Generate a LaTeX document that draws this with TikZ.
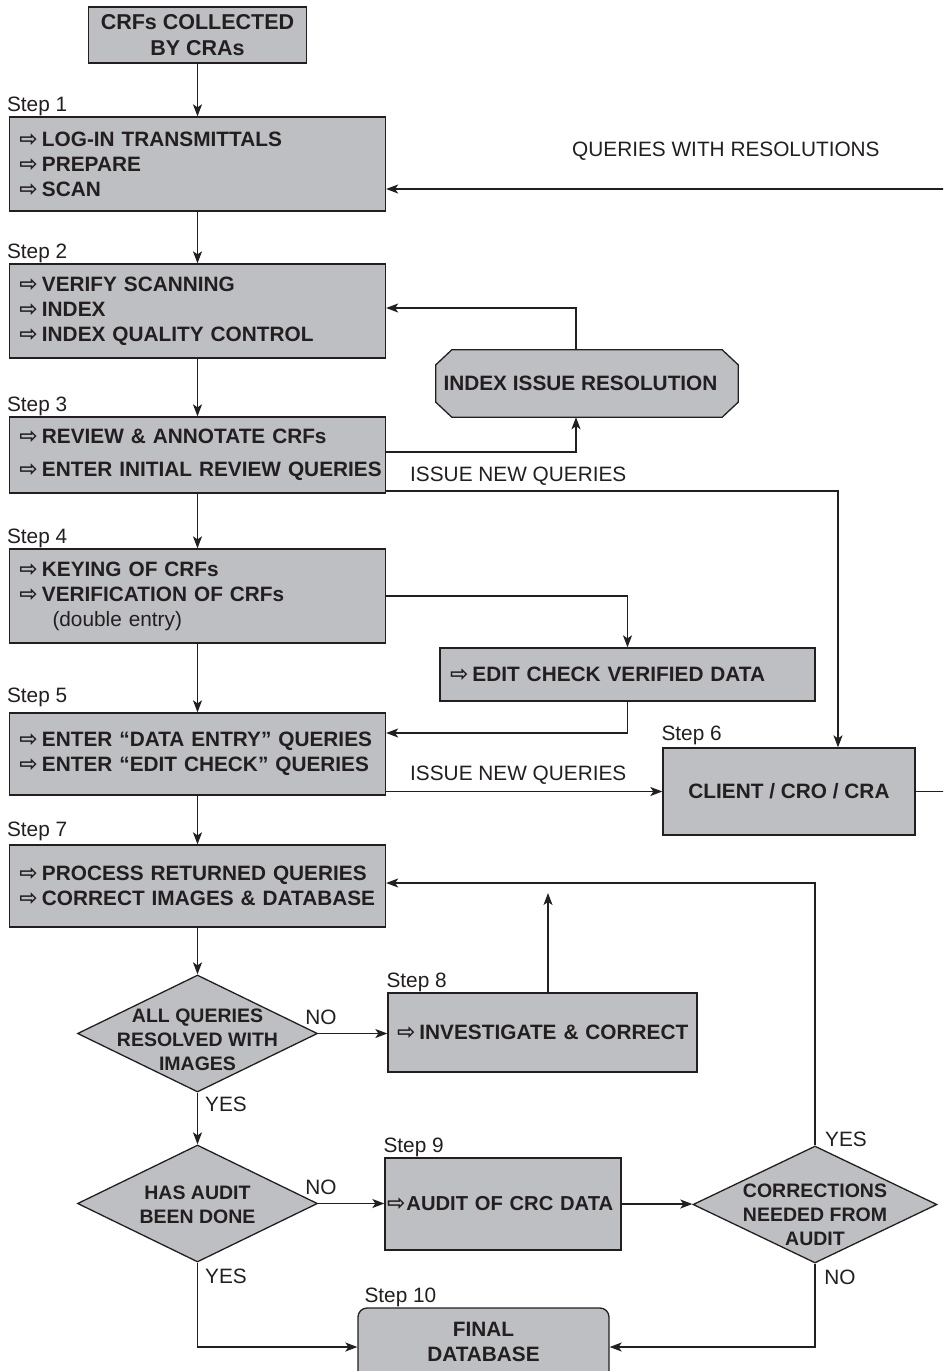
\documentclass[tikz,border=0pt]{standalone}
\usepackage{fontspec}
\setmainfont{Liberation Sans}
\newfontfamily\symfont{DejaVu Sans}
\usetikzlibrary{arrows.meta,shapes.geometric,backgrounds}

\definecolor{boxgray}{RGB}{190,191,194}
\definecolor{ink}{RGB}{35,31,32}

\newcommand\boxfont{\fontsize{20.8}{25}\selectfont\bfseries}
\newcommand\headfont{\fontsize{21.5}{26}\selectfont\bfseries}
\newcommand\diafont{\fontsize{19.5}{24}\selectfont\bfseries}
\newcommand\plainfont{\fontsize{20.8}{25}\selectfont}
\newcommand\stepmark[1][4pt]{{\symfont\fontsize{22}{22}\selectfont\char"21E8}\hspace{#1}}
\newcommand\stepline[1]{\mbox{\stepmark#1}}

\begin{document}
\begin{tikzpicture}[x=1pt,y=-1pt,
  >={Stealth[length=12pt,width=9pt,inset=3pt]},
  conn/.style={draw=ink, line width=1.3pt},
  arr/.style={conn,->},
  box/.style={draw=ink, line width=1.3pt, fill=boxgray},
  stepbox/.style={box, minimum width=376, text width=356, inner xsep=10,
    inner ysep=0, align=left, font=\boxfont, text=ink},
  centerbox/.style={box, align=center, font=\boxfont, text=ink},
  dia/.style={box, diamond, inner sep=0},
  diatext/.style={align=center, font=\diafont, inner sep=0, text=ink},
  plain/.style={font=\plainfont, inner sep=0, text=ink},
  steplbl/.style={plain, anchor=south west, xshift=-2pt},
]
\useasboundingbox (0,0) rectangle (943,1371);
\begin{scope}[on background layer]
  \fill[white] (0,0) rectangle (943,1371);
\end{scope}
\clip (0,0) rectangle (943,1371);

% main column of steps
\node[centerbox, font=\headfont, minimum width=218, minimum height=56] (top) at (197.5,35) {CRFs COLLECTED\\BY CRAs};
\node[stepbox, minimum height=94] (s1) at (197.5,164)
  {\stepline{LOG-IN TRANSMITTALS}\\\stepline{PREPARE}\\\stepline{SCAN}};
\node[stepbox, minimum height=94] (s2) at (197.5,311)
  {\stepline{VERIFY SCANNING}\\\stepline{INDEX}\\\stepline{INDEX QUALITY CONTROL}};
\node[stepbox, minimum height=76] (s3) at (197.5,455)
  {\stepline{REVIEW \& ANNOTATE CRFs}\\[8pt]\stepline{ENTER INITIAL REVIEW QUERIES}};
\node[stepbox, minimum height=94] (s4) at (197.5,596)
  {\stepline{KEYING OF CRFs}\\\stepline{VERIFICATION OF CRFs}\\\mbox{\mdseries\hspace*{33pt}(double entry)}};
\node[stepbox, minimum height=82] (s5) at (197.5,754)
  {\stepline{ENTER “DATA ENTRY” QUERIES}\\\stepline{ENTER “EDIT CHECK” QUERIES}};
\node[stepbox, minimum height=82] (s7) at (197.5,886)
  {\stepline{PROCESS RETURNED QUERIES}\\\stepline{CORRECT IMAGES \& DATABASE}};

% side boxes
\node[font=\boxfont, text=ink, minimum width=302, minimum height=67, inner sep=0] (oct) at (587,383.5)
  {INDEX ISSUE RESOLUTION\hspace*{13pt}};
\begin{scope}[on background layer]
  \draw[box] ([xshift=16pt]oct.north west) -- ([xshift=-16pt]oct.north east)
    -- ([yshift=-15pt]oct.north east) -- ([yshift=15pt]oct.south east)
    -- ([xshift=-16pt]oct.south east) -- ([xshift=16pt]oct.south west)
    -- ([yshift=15pt]oct.south west) -- ([yshift=-15pt]oct.north west) -- cycle;
\end{scope}
\node[stepbox, minimum width=375, text width=355, minimum height=53] (ec) at (627.5,674.5)
  {\stepline{EDIT CHECK VERIFIED DATA}};
\node[centerbox, minimum width=252, minimum height=87] (client) at (789,791.5) {CLIENT / CRO / CRA};
\node[stepbox, minimum width=309, text width=291, inner xsep=9, minimum height=79] (s8) at (542.5,1032.5)
  {\stepline{INVESTIGATE \& CORRECT}};
\node[stepbox, minimum width=236, text width=232, inner xsep=2, minimum height=92,
  font=\fontsize{20.2}{25}\selectfont\bfseries] (s9) at (503,1204)
  {\mbox{\stepmark[1pt]AUDIT OF CRC DATA}};

% decisions
\node[dia, minimum width=240, minimum height=117] (d1) at (197.5,1033.5) {};
\node[diatext] (d1t) at ([yshift=-6.5pt]d1.center) {ALL QUERIES\\RESOLVED WITH\\IMAGES};
\node[dia, minimum width=240, minimum height=117] (d2) at (197.5,1203.5) {};
\node[diatext] (d2t) at ([yshift=-1.5pt]d2.center) {HAS AUDIT\\BEEN DONE};
\node[dia, minimum width=244, minimum height=117] (d3) at (815,1204.5) {};
\node[diatext] (d3t) at ([yshift=-10pt]d3.center) {CORRECTIONS\\NEEDED FROM\\AUDIT};

% final database
\node[box, rounded corners=9pt, minimum width=251, minimum height=78] (fin) at (483.5,1347) {};
\node[diatext, font=\boxfont] (fint) at (483.5,1342) {FINAL\\DATABASE};

% step labels
\node[steplbl] (l1) at (s1.north west) {Step 1};
\node[steplbl] (l2) at (s2.north west) {Step 2};
\node[steplbl] (l3) at (s3.north west) {Step 3};
\node[steplbl] (l4) at (s4.north west) {Step 4};
\node[steplbl, yshift=5pt] (l5) at (s5.north west) {Step 5};
\node[steplbl, yshift=2pt, xshift=1pt] (l6) at (client.north west) {Step 6};
\node[steplbl, yshift=3pt] (l7) at (s7.north west) {Step 7};
\node[steplbl, xshift=1pt] (l8) at (s8.north west) {Step 8};
\node[steplbl, xshift=1pt] (l9) at (s9.north west) {Step 9};
\node[steplbl, xshift=9pt] (l10) at (fin.north west) {Step 10};

% connector labels
\node[plain, anchor=west] (qwr) at (572,151) {QUERIES WITH RESOLUTIONS};
\node[plain, anchor=west] (inq1) at (410,476) {ISSUE NEW QUERIES};
\node[plain, anchor=west] (inq2) at (410,775) {ISSUE NEW QUERIES};
\node[plain] (no1) at (321,1017) {NO};
\node[plain] (yes1) at (226,1104) {YES};
\node[plain] (no2) at (321,1187) {NO};
\node[plain] (yes2) at (226,1276) {YES};
\node[plain] (yes3) at (846,1139) {YES};
\node[plain] (no3) at (840,1277) {NO};

% connectors
\draw[arr] (top) -- (s1);
\draw[arr] (s1) -- (s2);
\draw[arr] (s2) -- (s3);
\draw[arr] (s3) -- (s4);
\draw[arr] (s4) -- (s5);
\draw[arr] (s5) -- (s7);
\draw[arr] (s7) -- (d1);
\draw[arr] (d1) -- (d2);
\draw[arr] ([xshift=-11pt]oct.north) |- ([yshift=3pt]s2.east);
\draw[arr] ([yshift=3pt]s3.east) -| ([xshift=-11pt]oct.south);
\draw[arr] ([yshift=-36pt]s3.east) -| ([xshift=49pt]client.north);
\draw[arr] (s4.east) -| (ec.north);
\draw[arr] (ec.south) |- ([yshift=21pt]s5.east);
\draw[arr] (client.west -| s5.east) -- (client.west);
\draw[arr] (client.east) -- ++(40,0) |- ([yshift=-25pt]s1.east);
\draw[arr] (d1.east) -- (d1.east -| s8.west);
\coordinate (up8) at (548,893);
\draw[arr] (s8.north -| up8) -- (up8);
\draw[arr] (d2.east) -- (d2.east -| s9.west);
\draw[arr] (s9.east) -- (s9.east -| d3.west);
\draw[arr] (d3.north) |- ([yshift=3pt]s7.east);
\draw[arr] (d3.south) |- (fin.east);
\draw[arr] (d2.south) |- (fin.west);
\end{tikzpicture}
\end{document}
